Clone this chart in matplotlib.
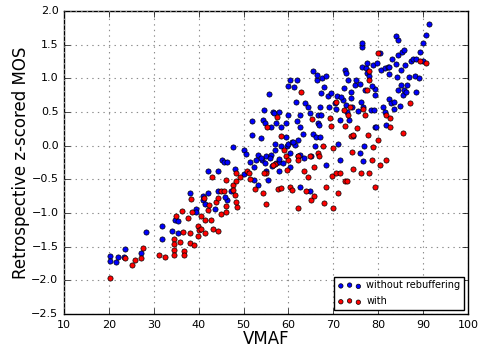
import numpy as np
import matplotlib
matplotlib.use("Agg")
import matplotlib.pyplot as plt

# ===== data =====
# without rebuffering
vmaf_wo = [20.2, 20.2, 21.6, 22.1, 23.3, 23.7, 27.1, 28.3, 31.9, 31.9, 34.0, 34.8, 35.3, 35.5,
           38.0, 40.9, 40.9, 39.5, 39.5, 42.1, 42.1, 41.4, 43.7, 44.3, 44.3, 45.2, 45.6, 46.2,
           47.7, 47.3, 48.0, 46.2, 45.9,
           50.0, 50.5, 50.1, 51.4, 51.9, 51.9, 52.3, 52.3, 53.2, 53.2, 53.8, 54.3, 54.5, 54.7,
           54.1, 55.1, 55.1, 55.5, 55.7, 56.2, 56.2, 56.6, 56.7, 56.9, 57.0, 57.3, 57.3, 57.8,
           57.9, 57.9, 58.4, 58.4, 58.8, 59.4, 59.4, 59.7, 59.9, 60.0, 60.4, 61.2, 61.8, 61.6,
           60.3, 60.4, 60.9, 59.9, 53.9, 54.8, 55.9, 56.4, 58.0, 52.8,
           61.4, 62.0, 62.6, 62.6, 62.2, 62.2, 62.6, 62.6, 63.3, 63.7, 64.4, 64.8, 65.0, 64.8,
           65.4, 65.5, 65.9, 66.1, 66.3, 66.3, 66.5, 66.5, 66.8, 67.0, 67.2, 67.2, 67.5, 67.9,
           68.4, 68.4, 68.8, 69.0, 69.4, 67.0, 63.5, 61.0,
           70.3, 70.5, 70.8, 71.1, 71.4, 71.5, 72.1, 72.4, 72.6, 72.8, 73.1, 73.3, 73.5, 73.9,
           74.1, 74.3, 74.9, 75.1, 75.4, 75.9, 75.9, 76.1, 76.3, 76.3, 76.3, 76.5, 76.9, 77.0,
           77.2, 77.4, 77.6, 77.9, 78.3, 78.8, 79.1, 79.2, 79.2, 79.3, 79.8, 80.3, 80.7, 79.5,
           74.0, 72.9, 76.7, 78.5, 71.8,
           81.1, 81.4, 81.6, 81.8, 82.2, 82.5, 82.4, 82.5, 82.9, 83.1, 83.5, 83.6, 83.9, 84.0,
           84.4, 84.4, 84.2, 84.4, 84.8, 85.1, 85.1, 85.4, 85.7, 85.5, 85.7, 86.1, 85.9, 86.4,
           86.8, 87.2, 87.7, 88.1, 88.3, 88.5, 89.1, 89.3, 90.0, 90.7, 91.3, 90.0]
mos_wo = [-1.64, -1.71, -1.73, -1.66, -1.66, -1.53, -1.60, -1.28, -1.19, -1.38, -1.27, -1.11, -1.12, -1.29,
          -0.70, -0.75, -0.80, -0.94, -0.99, -0.37, -0.70, -0.86, -0.94, -0.38, -0.68, -0.21, -0.24, -0.25,
          -0.02, -0.67, -0.35, -0.81, -0.76,
          -0.07, -0.12, -0.42, -0.24, 0.37, 0.16, -0.31, -0.51, -0.14, -0.58, 0.12, 0.38, 0.53, 0.34,
          -0.21, -0.16, -0.37, -0.51, 0.77, -0.14, 0.28, 0.50, 0.48, -0.07, 0.03, 0.34, -0.26, 0.50,
          -0.37, -0.24, 0.28, -0.01, -0.26, 0.34, 0.13, 0.00, 0.03, 0.89, 0.97, 0.87, 0.98, 0.64,
          -0.11, -0.31, 0.06, 0.45, -0.19, -0.26, -0.18, -0.30, -0.20, -0.22,
          0.01, 0.37, 0.46, 0.27, 0.08, -0.15, -0.14, -0.62, 0.17, 0.63, 0.58, 0.48, -0.16, -0.68,
          1.10, 0.17, -0.01, 0.13, 0.98, 1.05, 0.45, 0.33, 0.31, 0.13, 0.78, 0.46, 1.00, 0.87,
          1.03, -0.29, 0.74, 0.58, 0.78, 0.57, -0.18, 0.05,
          0.63, 0.55, 0.73, 0.03, -0.21, 0.38, 0.68, 0.85, 1.12, 1.08, 0.50, 0.98, 0.38, 0.79,
          0.58, 0.14, 0.90, 0.97, 0.52, 0.91, -0.11, 0.65, 1.47, 1.52, 1.17, -0.23, 0.00, 0.82,
          1.15, 1.22, 1.07, 1.03, 0.53, 1.20, 0.53, 0.28, 0.84, 0.75, 1.22, 1.38, 1.12, 0.28,
          0.70, 0.60, 0.58, 0.88, 0.72,
          0.58, 1.15, 0.50, 0.31, 1.17, 1.17, 1.06, 0.69, 0.63, 1.28, 0.55, 0.65, 1.21, 1.62,
          1.57, 1.35, 1.02, 0.83, 0.59, 0.90, 1.12, 1.39, 1.42, 0.75, 0.82, 0.80, 1.20, 0.90,
          1.02, 1.25, 1.29, 1.03, 0.79, 1.29, 1.01, 1.39, 1.52, 1.64, 1.80, 1.26]

# with rebuffering
vmaf_w = [20.2, 23.7, 25.2, 25.8, 27.2, 27.6, 31.1, 32.6, 34.6, 34.6, 34.6, 34.6, 35.0, 36.6,
          35.9, 36.7, 36.7, 37.7, 36.3, 38.0, 39.0, 38.0,
          38.4, 38.6, 39.8, 40.1, 39.8, 40.5, 41.1, 40.5, 41.5, 41.5, 42.1, 42.7, 42.3, 43.0,
          43.2, 44.3, 43.8, 44.2, 44.9, 44.9, 45.6, 46.0, 46.0, 46.0, 47.6, 47.6, 48.0, 48.6,
          48.3, 49.1, 48.3, 48.4,
          50.8, 51.2, 51.5, 52.6, 54.3, 55.1, 55.1, 55.3, 57.1, 57.4, 58.3, 57.6, 58.4, 58.9,
          59.4, 59.7, 60.0, 60.3, 60.7, 54.6, 56.6,
          62.7, 62.1, 62.2, 62.2, 63.4, 63.8, 64.4, 65.1, 65.3, 65.8, 65.8, 66.5, 66.9, 67.6,
          68.0, 68.3, 69.3, 69.5, 70.0, 69.6, 70.0, 64.9,
          70.5, 70.6, 71.1, 71.5, 72.3, 72.5, 72.5, 73.0, 73.2, 73.6, 73.9, 74.1, 74.4, 74.4,
          75.3, 76.1, 76.6, 77.0, 77.5, 77.7, 77.9, 78.0, 78.0, 78.6, 78.8, 79.2, 79.9, 80.0,
          80.4, 81.8, 82.7, 82.7, 81.8, 85.5, 87.1, 89.3, 90.6]
mos_w = [-1.97, -1.67, -1.77, -1.70, -1.67, -1.52, -1.63, -1.65, -1.39, -1.46, -1.55, -1.62, -1.05, -1.28,
         -1.43, -1.57, -1.63, -1.08, -0.97, -1.44, -1.47, -1.30,
         -0.79, -0.99, -1.20, -1.25, -1.34, -1.23, -0.78, -1.04, -1.10, -1.30, -0.96, -1.10, -0.88, -0.47,
         -1.24, -1.26, -0.84, -0.77, -0.68, -1.01, -0.68, -0.99, -0.89, -0.51, -0.58, -0.66, -0.73, -0.91,
         -0.83, -0.46, -0.41, -0.53,
         -0.37, -0.40, -0.50, -0.65, -0.70, -0.41, -0.87, 0.27, -0.27, 0.43, 0.14, -0.65, -0.63, -0.07,
         -0.15, -0.36, -0.21, -0.61, -0.66, -0.41, -0.29,
         0.79, -0.16, -0.21, -0.93, -0.37, -0.68, -0.47, -0.80, 0.39, -0.75, -0.31, -0.11, -0.16, 0.00,
         -0.85, -0.61, 0.41, 0.29, -0.04, -0.45, -0.93, -0.16,
         0.65, -0.41, -0.70, -0.41, 0.53, 0.29, -0.52, -0.52, 0.46, 0.57, 0.14, -0.09, -0.34, 0.16,
         0.26, -0.40, 0.54, 0.46, 0.83, 0.16, 1.11, 0.98, -0.41, -0.22, -0.02, -0.61, 1.37, 0.09,
         -0.29, 0.46, 0.41, 0.27, -0.21, 0.19, 0.63, 1.25, 1.22]

# ===== plot =====
plt.style.use("classic")
fig = plt.figure(figsize=(4.83, 3.49), dpi=100, facecolor="white")
ax = fig.add_axes([0.1325, 0.100, 0.8365, 0.869])

ax.scatter(vmaf_wo, mos_wo, s=14, c="b", edgecolors="k", linewidths=0.5,
           label="without rebuffering", zorder=3)
ax.scatter(vmaf_w, mos_w, s=14, c="r", edgecolors="k", linewidths=0.5,
           label="with", zorder=3)

ax.set_xlim(10, 100)
ax.set_ylim(-2.5, 2.0)
ax.set_xticks(np.arange(10, 101, 10))
ax.set_yticks(np.arange(-2.5, 2.01, 0.5))
ax.tick_params(labelsize=8)
ax.grid(True, linestyle=":", color="0.55", linewidth=0.8)
ax.set_xlabel("VMAF", fontsize=12, labelpad=0)
ax.set_ylabel("Retrospective z-scored MOS", fontsize=12, labelpad=1)
ax.legend(loc="lower right", fontsize=7, scatterpoints=3, borderaxespad=0.4,
          handletextpad=0.5, handlelength=2.4, markerscale=0.85, labelspacing=0.6)

fig.savefig("out.png", dpi=100, facecolor="white")
